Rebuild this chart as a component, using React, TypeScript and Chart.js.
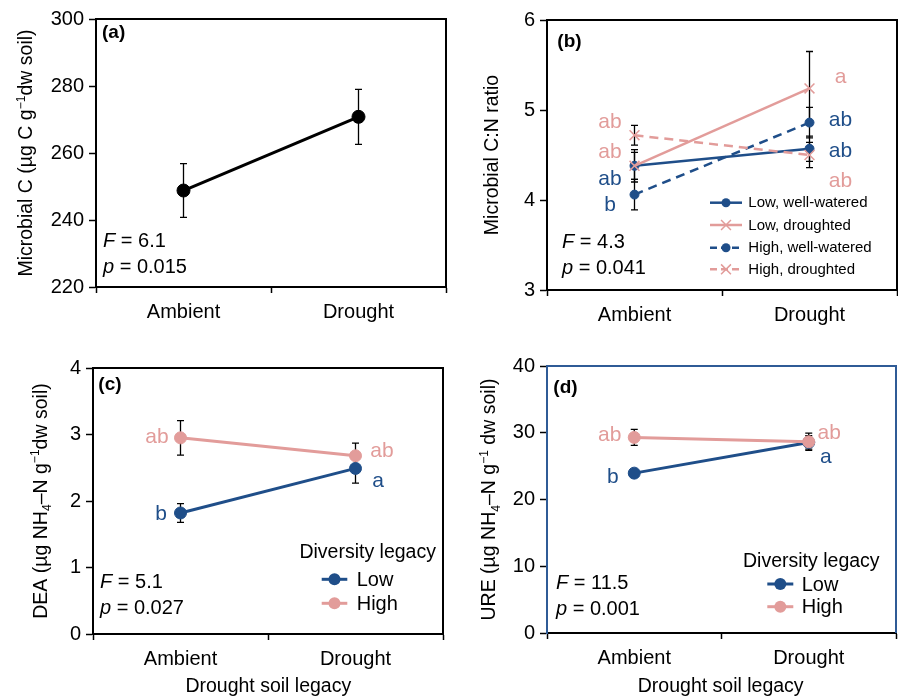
import React, { useEffect, useRef } from 'react';
import { Chart, registerables } from 'chart.js';

Chart.register(...registerables);

const FONT = '"Liberation Sans", Arial, Helvetica, sans-serif';
Chart.defaults.font.family = FONT;
Chart.defaults.color = '#000';

const BLUE = '#1f4e89';
const PINK = '#e29c9a';
const FRAME_BLUE = '#2f5b96';

const categories = ['Ambient', 'Drought'];

// (a) Microbial C
const microbialC = [248.8, 270.8];
const microbialCErr = [8.0, 8.2];

// (b) Microbial C:N ratio
const cnLowWell = [4.38, 4.57];
const cnLowWellErr = [0.18, 0.14];
const cnLowDrought = [4.38, 5.24];
const cnLowDroughtErr = [0.15, 0.41];
const cnHighWell = [4.06, 4.86];
const cnHighWellErr = [0.17, 0.17];
const cnHighDrought = [4.72, 4.5];
const cnHighDroughtErr = [0.11, 0.14];

// (c) DEA
const deaLow = [1.82, 2.49];
const deaLowErr = [0.14, 0.22];
const deaHigh = [2.95, 2.68];
const deaHighErr = [0.26, 0.19];

// (d) URE
const ureLow = [23.95, 28.55];
const ureLowErr = [0.4, 1.0];
const ureHigh = [29.3, 28.65];
const ureHighErr = [1.2, 1.3];

// statistics
const statsA = ['6.1', '0.015'];
const statsB = ['4.3', '0.041'];
const statsC = ['5.1', '0.027'];
const statsD = ['11.5', '0.001'];

// significance letters: category index, horizontal side, value at text baseline
const lettersB = [
  { text: 'ab', color: PINK, cat: 0, dx: -24.5, at: 4.8 },
  { text: 'ab', color: PINK, cat: 0, dx: -24.5, at: 4.463 },
  { text: 'ab', color: BLUE, cat: 0, dx: -24.5, at: 4.167 },
  { text: 'b', color: BLUE, cat: 0, dx: -24.5, at: 3.881 },
  { text: 'a', color: PINK, cat: 1, dx: 31, at: 5.297 },
  { text: 'ab', color: BLUE, cat: 1, dx: 31, at: 4.822 },
  { text: 'ab', color: BLUE, cat: 1, dx: 31, at: 4.481 },
  { text: 'ab', color: PINK, cat: 1, dx: 31, at: 4.148 },
];
const lettersC = [
  { text: 'ab', color: PINK, cat: 0, dx: -23.5, at: 2.868 },
  { text: 'b', color: BLUE, cat: 0, dx: -19.5, at: 1.714 },
  { text: 'ab', color: PINK, cat: 1, dx: 26.5, at: 2.657 },
  { text: 'a', color: BLUE, cat: 1, dx: 22.5, at: 2.215 },
];
const lettersD = [
  { text: 'ab', color: PINK, cat: 0, dx: -24.5, at: 28.8 },
  { text: 'b', color: BLUE, cat: 0, dx: -21.5, at: 22.5 },
  { text: 'ab', color: PINK, cat: 1, dx: 20.5, at: 29.1 },
  { text: 'a', color: BLUE, cat: 1, dx: 17, at: 25.5 },
];

type Seg = { t: string; sup?: boolean; sub?: boolean; it?: boolean; b?: boolean };

function segFont(s: Seg, size: number) {
  const sz = s.sup || s.sub ? size * 0.62 : size;
  return `${s.it ? 'italic ' : ''}${s.b ? 'bold ' : ''}${sz}px ${FONT}`;
}
function richWidth(ctx: CanvasRenderingContext2D, segs: Seg[], size: number) {
  let w = 0;
  for (const s of segs) {
    ctx.font = segFont(s, size);
    w += ctx.measureText(s.t).width;
  }
  return w;
}
function drawRich(
  ctx: CanvasRenderingContext2D,
  segs: Seg[],
  x: number,
  y: number,
  size: number,
  align: 'left' | 'center',
  color: string
) {
  ctx.save();
  ctx.textBaseline = 'alphabetic';
  ctx.textAlign = 'left';
  ctx.fillStyle = color;
  let cx = align === 'center' ? x - richWidth(ctx, segs, size) / 2 : x;
  for (const s of segs) {
    ctx.font = segFont(s, size);
    const dy = s.sup ? -size * 0.36 : s.sub ? size * 0.22 : 0;
    ctx.fillText(s.t, cx, y + dy);
    cx += ctx.measureText(s.t).width;
  }
  ctx.restore();
}

function drawMarker(
  ctx: CanvasRenderingContext2D,
  style: string,
  x: number,
  y: number,
  r: number,
  color: string
) {
  ctx.save();
  if (style === 'circle') {
    ctx.beginPath();
    ctx.arc(x, y, r, 0, Math.PI * 2);
    ctx.fillStyle = color;
    ctx.fill();
  } else {
    const d = r * Math.SQRT1_2;
    ctx.beginPath();
    ctx.moveTo(x - d, y - d);
    ctx.lineTo(x + d, y + d);
    ctx.moveTo(x + d, y - d);
    ctx.lineTo(x - d, y + d);
    ctx.strokeStyle = color;
    ctx.lineWidth = 1.5;
    ctx.stroke();
  }
  ctx.restore();
}

type Series = {
  label: string;
  data: number[];
  err: number[];
  color: string;
  dash: number[];
  marker: string;
  radius: number;
  width: number;
  order: number;
};

type Spec = {
  id: string;
  pos: [number, number];
  area: { l: number; t: number; r: number; b: number };
  y: [number, number, number];
  series: Series[];
  tag: string;
  tagPos: [number, number];
  stats: string[];
  statsPos: [number, number, number];
  yTitle: Seg[];
  yTitleX: number;
  xTitle?: { text: string; x: number; y: number };
  letters: { text: string; color: string; cat: number; dx: number; at: number }[];
  legend?:
    | { kind: 'series'; x1: number; x2: number; tx: number; ys: number[] }
    | { kind: 'diversity'; title: string; titleX: number; titleY: number; x1: number; x2: number; tx: number; ys: number[]; names: string[] };
  frame: string;
};

const W = 449;
const H = 348;

const specA: Spec = {
  id: 'a',
  pos: [0, 0],
  area: { l: 96, t: 19, r: 446, b: 287 },
  y: [220, 300, 20],
  series: [
    { label: 'Microbial C', data: microbialC, err: microbialCErr, color: '#000', dash: [], marker: 'circle', radius: 6.5, width: 3, order: 0 },
  ],
  tag: '(a)',
  tagPos: [102, 33],
  stats: statsA,
  statsPos: [103, 246.7, 273.3],
  yTitle: [{ t: 'Microbial C (µg C g' }, { t: '−1', sup: true }, { t: 'dw soil)' }],
  yTitleX: 32,
  letters: [],
  frame: '#000',
};

const specB: Spec = {
  id: 'b',
  pos: [449, 0],
  area: { l: 98, t: 20, r: 448, b: 290 },
  y: [3, 6, 1],
  series: [
    { label: 'Low, well-watered', data: cnLowWell, err: cnLowWellErr, color: BLUE, dash: [], marker: 'circle', radius: 4.5, width: 2.5, order: 3 },
    { label: 'Low, droughted', data: cnLowDrought, err: cnLowDroughtErr, color: PINK, dash: [], marker: 'crossRot', radius: 7, width: 2.5, order: 1 },
    { label: 'High, well-watered', data: cnHighWell, err: cnHighWellErr, color: BLUE, dash: [9, 6], marker: 'circle', radius: 4.5, width: 2.5, order: 2 },
    { label: 'High, droughted', data: cnHighDrought, err: cnHighDroughtErr, color: PINK, dash: [9, 6], marker: 'crossRot', radius: 7, width: 2.5, order: 0 },
  ],
  tag: '(b)',
  tagPos: [108.3, 41.7],
  stats: statsB,
  statsPos: [113, 248.3, 274],
  yTitle: [{ t: 'Microbial C:N ratio' }],
  yTitleX: 48.7,
  letters: lettersB,
  legend: { kind: 'series', x1: 261, x2: 293, tx: 299.3, ys: [202.7, 225, 247.7, 269.3] },
  frame: '#000',
};

const specC: Spec = {
  id: 'c',
  pos: [0, 348],
  area: { l: 93, t: 20, r: 443, b: 286 },
  y: [0, 4, 1],
  series: [
    { label: 'Low', data: deaLow, err: deaLowErr, color: BLUE, dash: [], marker: 'circle', radius: 6, width: 3, order: 1 },
    { label: 'High', data: deaHigh, err: deaHighErr, color: PINK, dash: [], marker: 'circle', radius: 6, width: 3, order: 0 },
  ],
  tag: '(c)',
  tagPos: [98.3, 37],
  stats: statsC,
  statsPos: [100, 240.3, 266],
  yTitle: [{ t: 'DEA (µg NH' }, { t: '4', sub: true }, { t: '–N g' }, { t: '−1', sup: true }, { t: 'dw soil)' }],
  yTitleX: 46.5,
  xTitle: { text: 'Drought soil legacy', x: 268.3, y: 343.7 },
  letters: lettersC,
  legend: { kind: 'diversity', title: 'Diversity legacy', titleX: 367.7, titleY: 210.3, x1: 321.7, x2: 347.3, tx: 356.7, ys: [231.3, 255.3], names: ['Low', 'High'] },
  frame: '#000',
};

const specD: Spec = {
  id: 'd',
  pos: [449, 348],
  area: { l: 98, t: 18, r: 447, b: 285 },
  y: [0, 40, 10],
  series: [
    { label: 'Low', data: ureLow, err: ureLowErr, color: BLUE, dash: [], marker: 'circle', radius: 6, width: 3, order: 1 },
    { label: 'High', data: ureHigh, err: ureHighErr, color: PINK, dash: [], marker: 'circle', radius: 6, width: 3, order: 0 },
  ],
  tag: '(d)',
  tagPos: [104.3, 39.5],
  stats: statsD,
  statsPos: [107, 241.3, 267],
  yTitle: [{ t: 'URE (µg NH' }, { t: '4', sub: true }, { t: '–N g' }, { t: '−1', sup: true }, { t: ' dw soil)' }],
  yTitleX: 46.3,
  xTitle: { text: 'Drought soil legacy', x: 271.7, y: 343.7 },
  letters: lettersD,
  legend: { kind: 'diversity', title: 'Diversity legacy', titleX: 362.3, titleY: 218.7, x1: 318.3, x2: 344.3, tx: 352.7, ys: [236, 258.7], names: ['Low', 'High'] },
  frame: FRAME_BLUE,
};

function panelPlugin(spec: Spec) {
  return {
    id: 'panel_' + spec.id,
    beforeDatasetsDraw(chart: any) {
      const ctx: CanvasRenderingContext2D = chart.ctx;
      const ys = chart.scales.y;
      ctx.save();
      ctx.strokeStyle = '#000';
      ctx.lineWidth = 1.3;
      spec.series.forEach((s, i) => {
        const meta = chart.getDatasetMeta(i);
        s.data.forEach((v, j) => {
          const x = meta.data[j].x;
          const y1 = ys.getPixelForValue(v + s.err[j]);
          const y2 = ys.getPixelForValue(v - s.err[j]);
          ctx.beginPath();
          ctx.moveTo(x, y1);
          ctx.lineTo(x, y2);
          ctx.moveTo(x - 3.5, y1);
          ctx.lineTo(x + 3.5, y1);
          ctx.moveTo(x - 3.5, y2);
          ctx.lineTo(x + 3.5, y2);
          ctx.stroke();
        });
      });
      ctx.restore();
    },
    afterDraw(chart: any) {
      const ctx: CanvasRenderingContext2D = chart.ctx;
      const ca = chart.chartArea;
      const xs = chart.scales.x;
      const ys = chart.scales.y;
      // frame top + right
      ctx.save();
      ctx.strokeStyle = spec.frame;
      ctx.lineWidth = 2;
      ctx.beginPath();
      ctx.moveTo(ca.left, ca.top);
      ctx.lineTo(ca.right, ca.top);
      ctx.lineTo(ca.right, ca.bottom);
      ctx.stroke();
      ctx.restore();

      // tag
      ctx.save();
      ctx.font = `bold 19px ${FONT}`;
      ctx.fillStyle = '#000';
      ctx.textBaseline = 'middle';
      ctx.textAlign = 'left';
      ctx.fillText(spec.tag, spec.tagPos[0], spec.tagPos[1]);
      ctx.restore();

      // stats
      drawRich(ctx, [{ t: 'F', it: true }, { t: ' = ' + spec.stats[0] }], spec.statsPos[0], spec.statsPos[1], 20, 'left', '#000');
      drawRich(ctx, [{ t: 'p', it: true }, { t: ' = ' + spec.stats[1] }], spec.statsPos[0], spec.statsPos[2], 20, 'left', '#000');

      // letters
      ctx.save();
      ctx.font = `21px ${FONT}`;
      ctx.textAlign = 'center';
      ctx.textBaseline = 'alphabetic';
      for (const l of spec.letters) {
        ctx.fillStyle = l.color;
        ctx.fillText(l.text, xs.getPixelForValue(l.cat) + l.dx, ys.getPixelForValue(l.at));
      }
      ctx.restore();

      // legend
      const lg = spec.legend;
      if (lg) {
        if (lg.kind === 'series') {
          spec.series.forEach((s, i) => {
            const y = lg.ys[i];
            ctx.save();
            ctx.strokeStyle = s.color;
            ctx.lineWidth = s.width;
            ctx.setLineDash(s.dash.length ? [7, 4] : []);
            ctx.beginPath();
            ctx.moveTo(lg.x1, y);
            ctx.lineTo(lg.x2, y);
            ctx.stroke();
            ctx.restore();
            drawMarker(ctx, s.marker, (lg.x1 + lg.x2) / 2, y, s.radius, s.color);
            ctx.save();
            ctx.font = `15px ${FONT}`;
            ctx.fillStyle = '#000';
            ctx.textBaseline = 'middle';
            ctx.fillText(s.label, lg.tx, y + 0.5);
            ctx.restore();
          });
        } else {
          drawRich(ctx, [{ t: lg.title }], lg.titleX, lg.titleY, 19.5, 'center', '#000');
          spec.series.forEach((s, i) => {
            const y = lg.ys[i];
            ctx.save();
            ctx.strokeStyle = s.color;
            ctx.lineWidth = s.width;
            ctx.beginPath();
            ctx.moveTo(lg.x1, y);
            ctx.lineTo(lg.x2, y);
            ctx.stroke();
            ctx.restore();
            drawMarker(ctx, s.marker, (lg.x1 + lg.x2) / 2, y, s.radius, s.color);
            ctx.save();
            ctx.font = `20px ${FONT}`;
            ctx.fillStyle = '#000';
            ctx.textBaseline = 'middle';
            ctx.fillText(lg.names[i], lg.tx, y + 1);
            ctx.restore();
          });
        }
      }

      // y title (rotated)
      ctx.save();
      ctx.translate(spec.yTitleX, (ca.top + ca.bottom) / 2);
      ctx.rotate(-Math.PI / 2);
      drawRich(ctx, spec.yTitle, 0, 0, 19.5, 'center', '#000');
      ctx.restore();

      // x title
      if (spec.xTitle) {
        drawRich(ctx, [{ t: spec.xTitle.text }], spec.xTitle.x, spec.xTitle.y, 19.5, 'center', '#000');
      }
    },
  };
}

function zeroPad(sc: any) {
  sc.paddingLeft = 0;
  sc.paddingRight = 0;
  sc.paddingTop = 0;
  sc.paddingBottom = 0;
}

function makeConfig(spec: Spec): any {
  const a = spec.area;
  return {
    type: 'line',
    data: {
      labels: categories,
      datasets: spec.series.map((s) => ({
        label: s.label,
        data: s.data,
        borderColor: s.color,
        backgroundColor: s.color,
        borderWidth: s.width,
        borderDash: s.dash,
        pointStyle: s.marker,
        pointRadius: s.radius,
        pointBackgroundColor: s.color,
        pointBorderColor: s.color,
        pointBorderWidth: s.marker === 'circle' ? 1 : 1.5,
        order: s.order,
        tension: 0,
        fill: false,
      })),
    },
    options: {
      animation: false,
      responsive: false,
      events: [],
      layout: {
        autoPadding: false,
        padding: { left: a.l - 50, top: a.t, right: W - a.r, bottom: H - a.b - 40 },
      },
      plugins: { legend: { display: false }, tooltip: { enabled: false } },
      scales: {
        x: {
          type: 'category',
          offset: true,
          grid: {
            offset: true,
            drawOnChartArea: false,
            drawTicks: true,
            tickLength: 6,
            tickColor: '#000',
            tickWidth: 1.5,
          },
          border: { display: true, color: '#000', width: 2 },
          ticks: { color: '#000', font: { family: FONT, size: 20 }, padding: 7, maxRotation: 0 },
          afterFit: (sc: any) => {
            sc.height = 40;
            zeroPad(sc);
          },
        },
        y: {
          type: 'linear',
          min: spec.y[0],
          max: spec.y[1],
          ticks: { stepSize: spec.y[2], color: '#000', font: { family: FONT, size: 20 }, padding: 5 },
          grid: { drawOnChartArea: false, tickLength: 7, tickColor: '#000', tickWidth: 1.5 },
          border: { display: true, color: spec.frame, width: 2 },
          afterFit: (sc: any) => {
            sc.width = 50;
            zeroPad(sc);
          },
        },
      },
    },
    plugins: [panelPlugin(spec)],
  };
}

function Panel({ spec }: { spec: Spec }) {
  const ref = useRef<HTMLCanvasElement>(null);
  useEffect(() => {
    const chart = new Chart(ref.current as HTMLCanvasElement, makeConfig(spec));
    return () => chart.destroy();
  }, [spec]);
  return (
    <canvas
      ref={ref}
      width={W}
      height={H}
      style={{ position: 'absolute', left: spec.pos[0], top: spec.pos[1], width: W, height: H }}
    />
  );
}

export default function App() {
  return (
    <div style={{ position: 'fixed', left: 0, top: 0, width: 898, height: 696, background: '#fff' }}>
      <Panel spec={specA} />
      <Panel spec={specB} />
      <Panel spec={specC} />
      <Panel spec={specD} />
    </div>
  );
}
